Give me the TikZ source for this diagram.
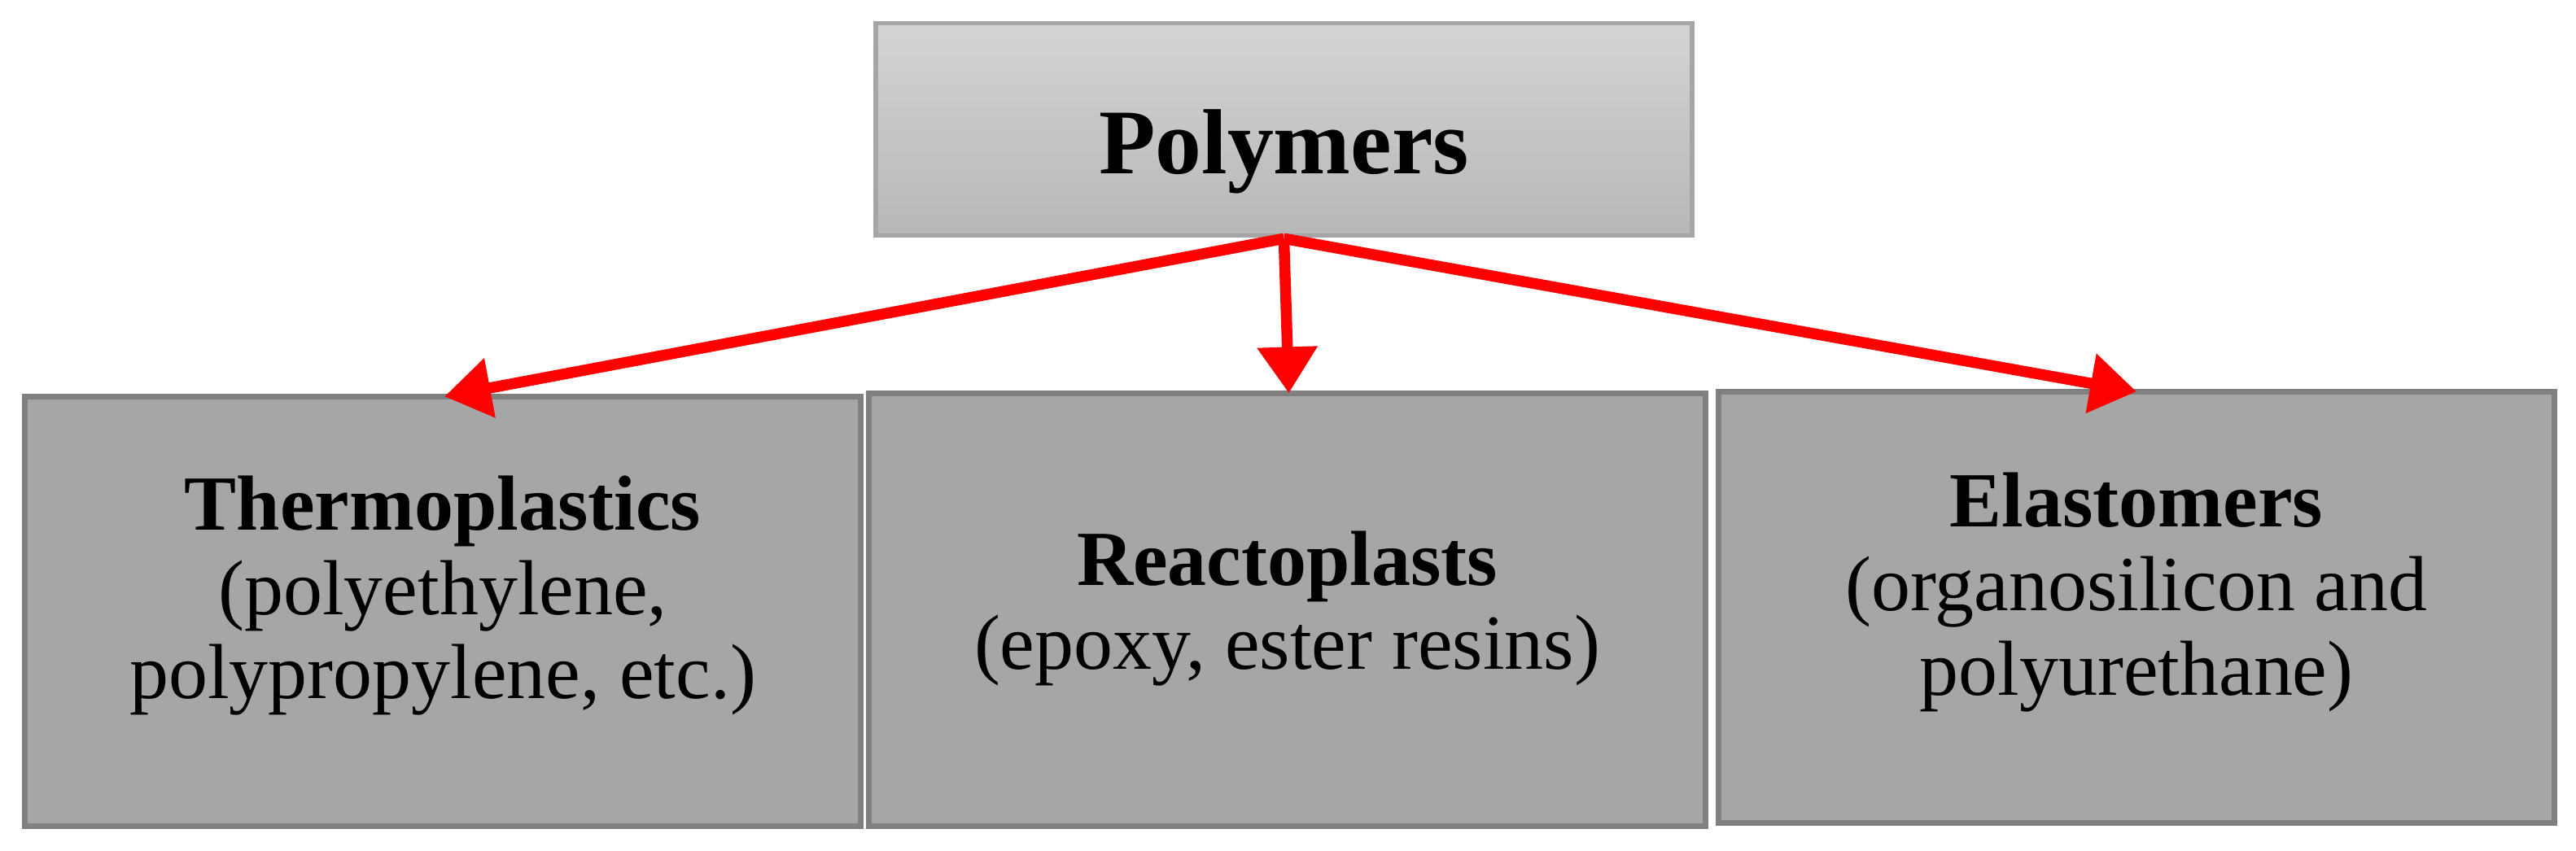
\documentclass[tikz,border=0pt]{standalone}
\usepackage{fontspec}
\setmainfont{Liberation Serif}
\usetikzlibrary{arrows.meta}
\begin{document}
\begin{tikzpicture}[x=0.02cm,y=-0.02cm,
  top/.style={draw=black!35,line width=1.5pt,top color=black!17,bottom color=black!28},
  sub/.style={draw=black!50,line width=2pt,fill=black!35},
  lbl/.style={align=center,font=\fontsize{27}{29}\selectfont},
  arr/.style={red,line width=3.8pt,-{Triangle[length=16pt,width=20pt]}}]
\useasboundingbox (0,0) rectangle (1565,517);
\draw[top] (532,14) rectangle (1028,143);
\node[font=\fontsize{32}{36}\selectfont\bfseries] (p) at (780,92) {Polymers};
\coordinate (s) at (780,145);
\draw[sub] (15,241) rectangle (523,502);
\draw[sub] (528,239) rectangle (1036,502);
\draw[sub] (1044,238) rectangle (1552,500);
\node[lbl] (t) at (269,362) {\textbf{Thermoplastics}\\(polyethylene,\\polypropylene, etc.)};
\node[lbl] (r) at (782,370) {\textbf{Reactoplasts}\\(epoxy, ester resins)};
\node[lbl] (e) at (1298,360) {\textbf{Elastomers}\\(organosilicon and\\polyurethane)};
\coordinate (ta) at (270,241);
\coordinate (ra) at (783,239);
\coordinate (ea) at (1298,238);
\draw[arr] (s) -- (ta);
\draw[arr] (s) -- (ra);
\draw[arr] (s) -- (ea);
\end{tikzpicture}
\end{document}
